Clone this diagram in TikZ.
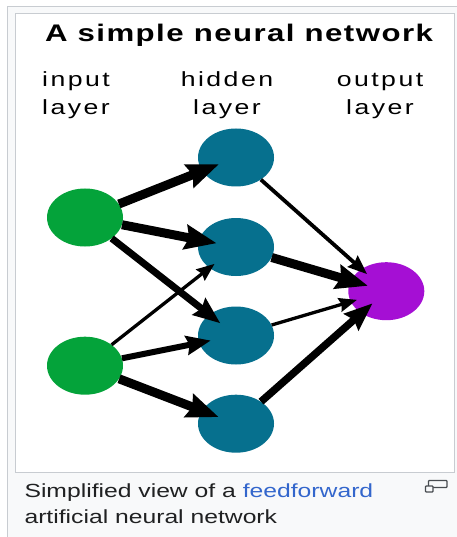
\documentclass[tikz,border=0pt]{standalone}
\usepackage{fontspec}
\setmainfont{Liberation Sans}[FakeStretch=1.3]
\usetikzlibrary{arrows.meta,shapes.geometric}
\definecolor{InGreen}{RGB}{4,163,58}
\definecolor{HidTeal}{RGB}{6,112,142}
\definecolor{OutPurple}{RGB}{165,15,212}
\definecolor{FrameGray}{RGB}{200,204,209}
\definecolor{BoxBg}{RGB}{248,249,250}
\definecolor{CapText}{RGB}{32,33,34}
\definecolor{LinkBlue}{RGB}{51,102,204}
\definecolor{IconGray}{RGB}{72,76,80}

\begin{document}
\begin{tikzpicture}[x=1pt,y=-1pt,
	neuron/.style={ellipse,minimum width=76pt,minimum height=58pt,inner sep=0pt},
	syn/.style={line width=#1,shorten >=-2*#1,
		-{Stealth[length=10pt 2.4,width=8pt 1.8,inset=1pt 0.3]}},
	lbl/.style={anchor=base,align=center,
		font=\fontsize{20.5}{28}\selectfont\addfontfeature{LetterSpace=12}}]
	\useasboundingbox (0,0) rectangle (456,537);
	
	% frame of the figure and of the picture
	\draw[FrameGray,fill=BoxBg,line width=1.5pt] (7.5,6.5) rectangle (480,560);
	\draw[FrameGray,fill=white,line width=1pt] (15.5,13.5) rectangle (454.5,472.5);
	
	% titles (base = last line)
	\node[anchor=base,font=\fontsize{24}{28}\selectfont\bfseries\addfontfeature{LetterSpace=6}]
		(title) at (239,42) {A simple neural network};
	\node[lbl] (lblin) at (76,115) {input\\layer};
	\node[lbl] (lblhid) at (227,115) {hidden\\layer};
	\node[lbl] (lblout) at (380,115) {output\\layer};
	
	% neurons
	\node[neuron,fill=InGreen] (in1) at (85,217.5) {};
	\node[neuron,fill=InGreen] (in2) at (85,365.7) {};
	\node[neuron,fill=HidTeal] (hid1) at (236,157.5) {};
	\node[neuron,fill=HidTeal] (hid2) at (236,247) {};
	\node[neuron,fill=HidTeal] (hid3) at (236,335.5) {};
	\node[neuron,fill=HidTeal] (hid4) at (236,423.7) {};
	\node[neuron,fill=OutPurple] (out) at (386.3,291.2) {};
	
	% weights, thicker line = larger weight
	\draw[syn=9pt] (in1) -- (hid1);
	\draw[syn=9pt] (in1) -- (hid2);
	\draw[syn=7pt] (in1) -- (hid3);
	\draw[syn=3.3pt] (in2) -- (hid2);
	\draw[syn=6pt] (in2) -- (hid3);
	\draw[syn=9pt] (in2) -- (hid4);
	\draw[syn=3.8pt] (hid1) -- (out);
	\draw[syn=9pt] (hid2) -- (out);
	\draw[syn=3.3pt] (hid3) -- (out);
	\draw[syn=7.5pt] (hid4) -- (out);
	
	% caption
	\node[anchor=base west,align=left,text=CapText,font=\fontsize{19}{26}\selectfont]
		(caption) at (21,523) {Simplified view of a \textcolor{LinkBlue}{feedforward}\\artificial neural network};
	\draw[IconGray,line width=1.3pt,rounded corners=0.8pt] (428.5,480.5) rectangle (447,487.5);
	\draw[IconGray,fill=BoxBg,line width=1.3pt,rounded corners=0.8pt] (425.5,486) rectangle (433,492);
\end{tikzpicture}
\end{document}
